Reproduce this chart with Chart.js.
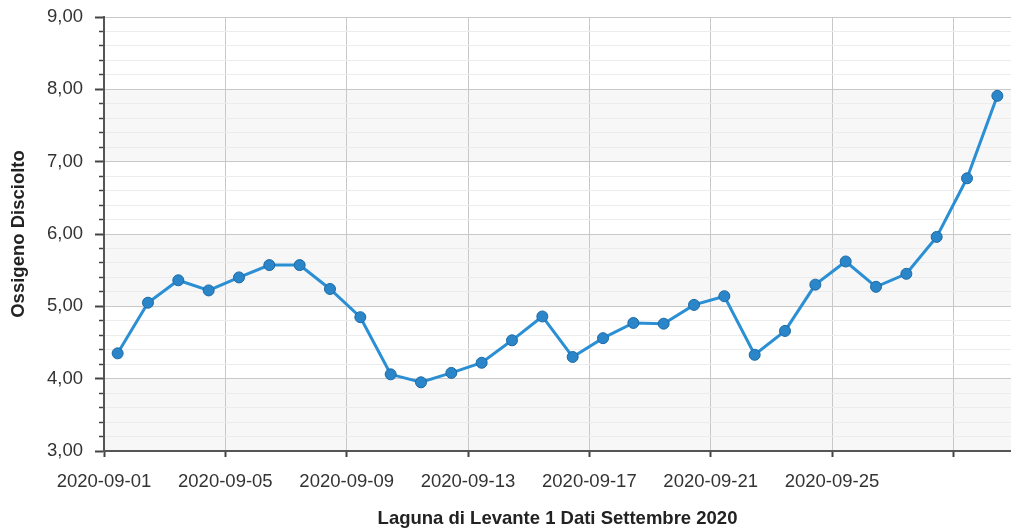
<!DOCTYPE html>
<html>
<head>
<meta charset="utf-8">
<script src="https://cdn.jsdelivr.net/npm/chart.js@4.4.0/dist/chart.umd.min.js"></script>
<style>
    html, body { margin: 0; padding: 0; background: #fff; }
    #wrap { width: 1011px; height: 531px; position: relative; }
</style>
</head>
<body>
<div id="wrap"><canvas id="oxygen-chart"></canvas></div>
<script>
const DATES = [
    "2020-09-01", "2020-09-02", "2020-09-03", "2020-09-04", "2020-09-05",
    "2020-09-06", "2020-09-07", "2020-09-08", "2020-09-09", "2020-09-10",
    "2020-09-11", "2020-09-12", "2020-09-13", "2020-09-14", "2020-09-15",
    "2020-09-16", "2020-09-17", "2020-09-18", "2020-09-19", "2020-09-20",
    "2020-09-21", "2020-09-22", "2020-09-23", "2020-09-24", "2020-09-25",
    "2020-09-26", "2020-09-27", "2020-09-28", "2020-09-29", "2020-09-30",
];
const OXYGEN = [
    4.35, 5.05, 5.36, 5.22, 5.40, 5.57, 5.57, 5.24, 4.85, 4.06,
    3.95, 4.08, 4.22, 4.53, 4.86, 4.30, 4.56, 4.77, 4.76, 5.02,
    5.14, 4.33, 4.66, 5.30, 5.62, 5.27, 5.45, 5.96, 6.77, 7.91,
];
// one label every 4 days, the last gridline (09-29) has none
const X_TICK_LABELS = ["2020-09-01", "2020-09-05", "2020-09-09", "2020-09-13", "2020-09-17", "2020-09-21", "2020-09-25", ""];
const Y_TITLE = "Ossigeno Disciolto";
const X_TITLE = "Laguna di Levante 1 Dati Settembre 2020";

const FONT = "'Liberation Sans', Arial, sans-serif";
const DAY = 24 * 3600 * 1000;
const start = Date.parse(DATES[0]);

const points = DATES.map((d, i) => ({
    x: (Date.parse(d) - start) / DAY + 0.45, // samples taken around mid-day
    y: OXYGEN[i],
}));

const isMajor = (v) => Math.abs(v - Math.round(v)) < 1e-6;

// alternating light bands between whole units (3-4, 5-6, 7-8)
const bands = {
    id: 'bands',
    beforeDraw(chart) {
        const {ctx, chartArea, scales: {y}} = chart;
        ctx.save();
        ctx.fillStyle = '#f7f7f7';
        for (let v = 3; v < 9; v += 2) {
            const top = y.getPixelForValue(v + 1);
            const bottom = y.getPixelForValue(v);
            ctx.fillRect(chartArea.left, top, chartArea.right - chartArea.left, bottom - top);
        }
        ctx.restore();
    }
};

new Chart(document.getElementById('oxygen-chart'), {
    type: 'line',
    data: {
        datasets: [{
            label: Y_TITLE,
            data: points,
            borderColor: '#2b8fd4',
            borderWidth: 3,
            backgroundColor: '#2a86c9',
            pointBorderColor: '#1c6aa5',
            pointBorderWidth: 1,
            pointRadius: 5.5,
            tension: 0,
        }]
    },
    plugins: [bands],
    options: {
        responsive: true,
        maintainAspectRatio: false,
        animation: false,
        layout: { autoPadding: false, padding: { top: 17, right: 0, left: 0, bottom: 0 } },
        plugins: {
            legend: { display: false },
            tooltip: { enabled: false },
        },
        scales: {
            x: {
                type: 'linear',
                min: 0,
                max: 29.9,
                afterFit(scale) {
                    scale.height = 80;
                    scale.paddingLeft = 0;
                    scale.paddingRight = 0;
                },
                border: { color: '#555', width: 2 },
                grid: {
                    color: '#c8c8c8',
                    lineWidth: 1,
                    tickLength: 6,
                    tickColor: '#444',
                    tickWidth: 2,
                },
                ticks: {
                    stepSize: 4,
                    includeBounds: false,
                    autoSkip: false,
                    maxRotation: 0,
                    padding: 14,
                    color: '#333',
                    font: { family: FONT, size: 18.5 },
                    callback: (v, i) => X_TICK_LABELS[i] ?? '',
                },
                title: {
                    display: true,
                    text: X_TITLE,
                    color: '#222',
                    font: { family: FONT, size: 18.5, weight: 'bold' },
                    padding: { top: 0, bottom: 1 },
                },
            },
            y: {
                min: 3,
                max: 9,
                afterFit(scale) {
                    scale.width = 104;
                    scale.paddingTop = 0;
                    scale.paddingBottom = 0;
                },
                border: { color: '#555', width: 2 },
                grid: {
                    color: (ctx) => isMajor(ctx.tick.value) ? '#c8c8c8' : '#ececec',
                    lineWidth: 1,
                    tickLength: 9,
                    tickColor: '#444',
                    tickWidth: (ctx) => isMajor(ctx.tick.value) ? 2 : 1.5,
                    tickBorderDash: (ctx) => isMajor(ctx.tick.value) ? [] : [0, 4, 5, 0],
                },
                ticks: {
                    stepSize: 0.2,
                    autoSkip: false,
                    padding: 12,
                    color: '#333',
                    font: { family: FONT, size: 18.5 },
                    callback: (v) => isMajor(v) ? Math.round(v).toFixed(2).replace('.', ',') : '',
                },
                title: {
                    display: true,
                    text: Y_TITLE,
                    color: '#222',
                    font: { family: FONT, size: 18.5, weight: 'bold' },
                    padding: { top: 8, bottom: 0 },
                },
            }
        }
    }
});
</script>
</body>
</html>
